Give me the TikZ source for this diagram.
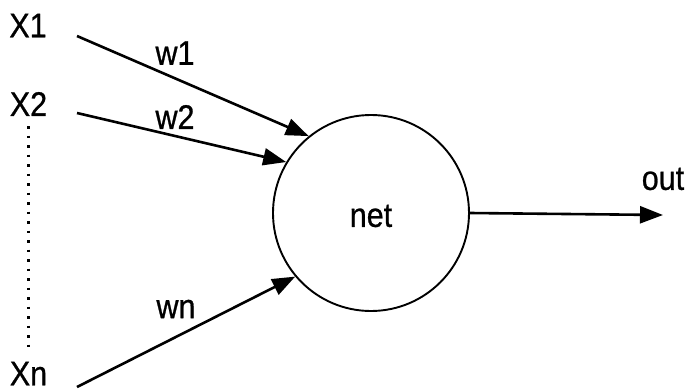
\documentclass[tikz,border=0pt]{standalone}
\usepackage{fontspec}
\setmainfont{Liberation Sans}
\newfontfamily\lblfont[FakeBold=0.8]{Liberation Sans}
\usetikzlibrary{arrows.meta}
\newcommand{\tallbox}[1]{\scalebox{1}[1.12]{#1}}
\begin{document}
\begin{tikzpicture}[x=1pt,y=-1pt,
  lbl/.style={inner sep=0pt, anchor=center, font=\lblfont\fontsize{30.5}{30}\selectfont},
  arr/.style={line width=2.6pt, -{Triangle[length=23pt,width=17pt]}},
  dots/.style={line width=2.8pt, dash pattern=on 2.8pt off 6.7pt},
  neuron/.style={circle, draw, line width=1.9pt, minimum size=196pt, inner sep=0pt}]
\useasboundingbox (0,0) rectangle (688,391);
\node[lbl] (X1) at (28,25.5) {\tallbox{X1}};
\node[lbl] (X2) at (28.5,104) {\tallbox{X2}};
\node[lbl] (Xn) at (28.5,373.5) {\tallbox{Xn}};
\node[neuron] (net) at (371,213) {};
\node[lbl] (nettext) at (371,216) {\tallbox{net}};
\node[lbl] (w1) at (175,53) {\tallbox{w1}};
\node[lbl] (w2) at (175,117) {\tallbox{w2}};
\node[lbl] (wn) at (176,309) {\tallbox{wn}};
\node[lbl] (out) at (663,179) {\tallbox{out}};
\coordinate (s1) at (77,36);
\coordinate (s2) at (77,113);
\coordinate (sn) at (77,387);
\coordinate (o) at (663,215);
\draw[arr] (s1) -- (net.129.7);
\draw[arr] (s2) -- (net.149.2);
\draw[arr] (sn) -- (net.220.9);
\draw[arr] (net.east) -- (o);
\draw[dots] (X2.south) ++(0,10) -- ([yshift=9pt]Xn.north);
\end{tikzpicture}
\end{document}
